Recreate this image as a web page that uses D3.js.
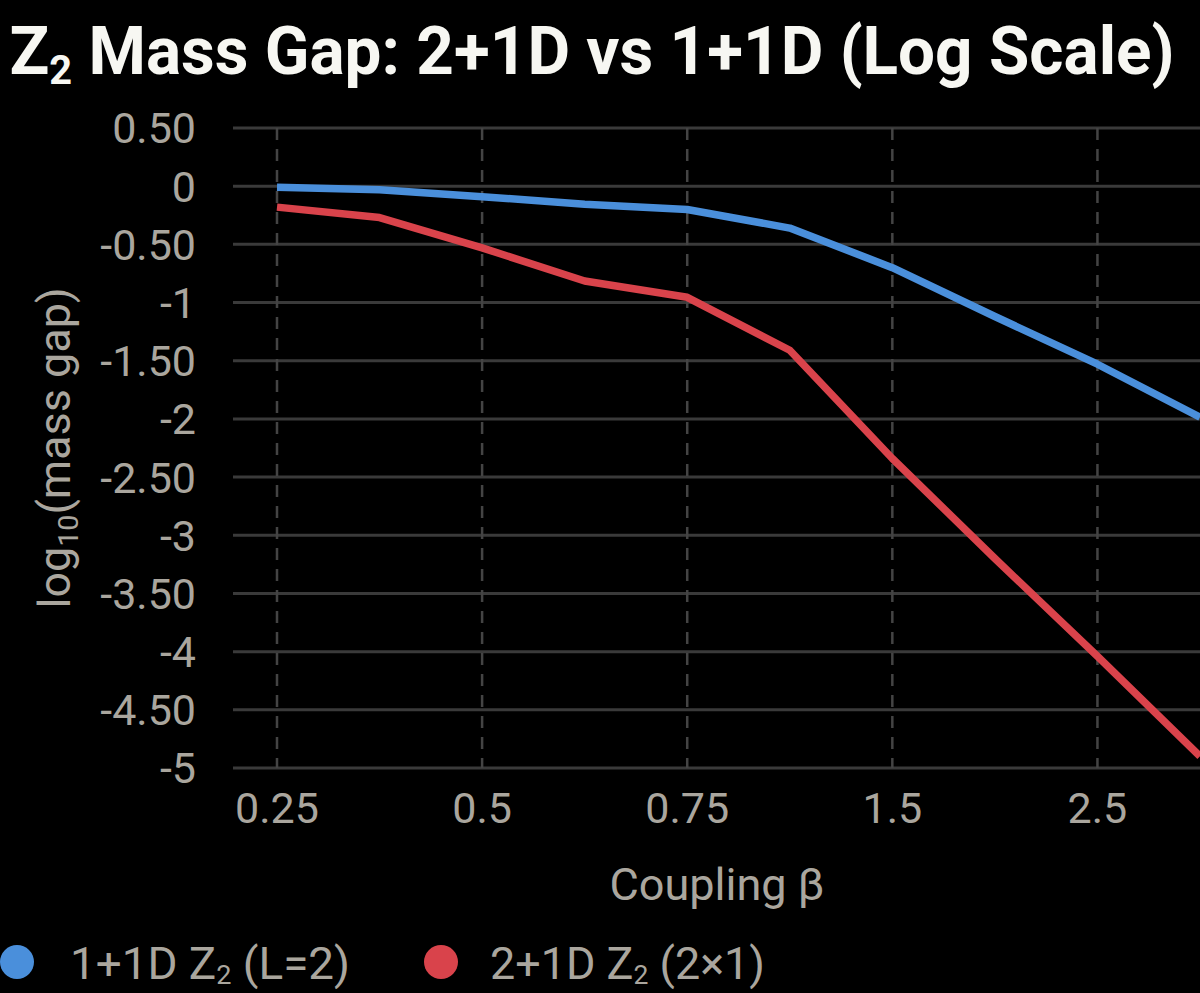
<!DOCTYPE html>
<html>
<head>
<meta charset="utf-8">
<script src="https://cdn.jsdelivr.net/npm/d3@7"></script>
<style>
  html, body { margin: 0; padding: 0; background: #000; }
  svg { display: block; }
  text { font-family: Roboto, "Noto Sans", sans-serif; }
</style>
</head>
<body>
<svg id="chart" width="1200" height="993"></svg>
<script>
// ---- data ----
const categories = ["0.25", "0.35", "0.5", "0.6", "0.75", "1", "1.5", "2", "2.5", "3"];
const shownTicks = ["0.25", "0.5", "0.75", "1.5", "2.5"];
const blue1p1 = [-0.01, -0.03, -0.09, -0.155, -0.2, -0.36, -0.70, -1.12, -1.53, -1.985];
const red2p1 = [-0.18, -0.27, -0.53, -0.815, -0.955, -1.41, -2.34, -3.20, -4.04, -4.90];
const yTicks = [0.5, 0, -0.5, -1, -1.5, -2, -2.5, -3, -3.5, -4, -4.5, -5];
const seriesNames = ["1+1D Z", "2+1D Z"];

const svg = d3.select("#chart");
const plotLeft = 233, plotRight = 1200, plotTop = 128, plotBottom = 768;

const x = d3.scalePoint().domain(categories).range([277, 1200]).padding(0);
const y = d3.scaleLinear().domain([-5, 0.5]).range([plotBottom, plotTop]);

const tickColor = "#aaa69e";

// horizontal grid
svg.append("g").selectAll("line").data(yTicks).join("line")
  .attr("x1", plotLeft).attr("x2", plotRight)
  .attr("y1", d => y(d)).attr("y2", d => y(d))
  .attr("stroke", "#3a3a3a").attr("stroke-width", 3);

// vertical dashed grid
svg.append("g").selectAll("line").data(shownTicks).join("line")
  .attr("x1", d => x(d)).attr("x2", d => x(d))
  .attr("y1", plotTop).attr("y2", plotBottom)
  .attr("stroke", "#444").attr("stroke-width", 2.5)
  .attr("stroke-dasharray", "12,9");

// y tick labels
const fmtY = d => Number.isInteger(d) ? String(d) : d.toFixed(2);
svg.append("g").selectAll("text").data(yTicks).join("text")
  .attr("x", 196).attr("y", d => y(d)).attr("dy", "0.36em")
  .attr("text-anchor", "end").attr("font-size", 43).attr("fill", tickColor)
  .text(d => fmtY(d));

// x tick labels
svg.append("g").selectAll("text").data(shownTicks).join("text")
  .attr("x", d => x(d)).attr("y", 823)
  .attr("text-anchor", "middle").attr("font-size", 43).attr("fill", tickColor)
  .text(d => d);

// lines
const line = d3.line().x((d, i) => x(categories[i])).y(d => y(d));
svg.append("path").datum(blue1p1).attr("d", line)
  .attr("fill", "none").attr("stroke", "#4a8fdb").attr("stroke-width", 7.5)
  .attr("stroke-linejoin", "round");
svg.append("path").datum(red2p1).attr("d", line)
  .attr("fill", "none").attr("stroke", "#d9434b").attr("stroke-width", 7.5)
  .attr("stroke-linejoin", "round");

// title
const title = svg.append("text").attr("x", 592).attr("y", 74)
  .attr("text-anchor", "middle").attr("font-size", 66).attr("font-weight", "bold")
  .attr("fill", "#f7f7f2");
title.append("tspan").text("Z");
title.append("tspan").attr("font-size", 40).attr("dy", 10).text("2");
title.append("tspan").attr("dy", -10).text(" Mass Gap: 2+1D vs 1+1D (Log Scale)");
title.attr("textLength", 1165).attr("lengthAdjust", "spacingAndGlyphs");

// y axis label
const yl = svg.append("text").attr("transform", "translate(70,448) rotate(-90)")
  .attr("text-anchor", "middle").attr("font-size", 44).attr("fill", tickColor);
yl.append("tspan").text("log");
yl.append("tspan").attr("font-size", 28).attr("dy", 8).text("10");
yl.append("tspan").attr("dy", -8).text("(mass gap)");
yl.attr("textLength", 321).attr("lengthAdjust", "spacingAndGlyphs");

// x axis label
svg.append("text").attr("x", 717).attr("y", 900)
  .attr("text-anchor", "middle").attr("font-size", 44).attr("fill", tickColor)
  .attr("textLength", 215).attr("lengthAdjust", "spacingAndGlyphs")
  .text("Coupling β");

// legend
const legend = [
  { name: seriesNames[0], suffix: " (L=2)", color: "#4a8fdb", cx: 17, tx: 70, w: 280 },
  { name: seriesNames[1], suffix: " (2×1)", color: "#d9434b", cx: 441, tx: 490, w: 275 }
];
legend.forEach(l => {
  svg.append("circle").attr("cx", l.cx).attr("cy", 962).attr("r", 17).attr("fill", l.color);
  const t = svg.append("text").attr("x", l.tx).attr("y", 979)
    .attr("font-size", 44).attr("fill", tickColor);
  t.append("tspan").text(l.name);
  t.append("tspan").attr("font-size", 26).attr("dy", 5).text("2");
  t.append("tspan").attr("dy", -5).text(l.suffix);
  t.attr("textLength", l.w).attr("lengthAdjust", "spacingAndGlyphs");
});
</script>
</body>
</html>
